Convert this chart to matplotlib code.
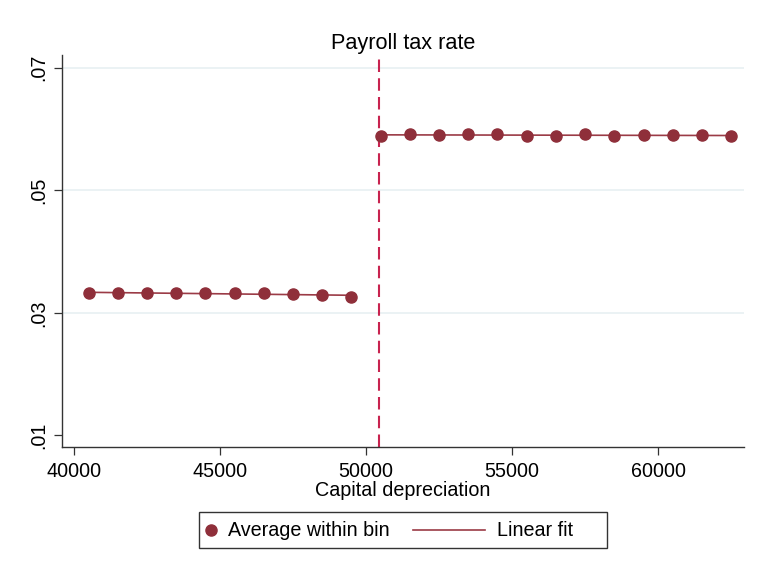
import numpy as np
import matplotlib
matplotlib.use("Agg")
import matplotlib.pyplot as plt
from matplotlib.lines import Line2D
from matplotlib.patches import Rectangle

plt.rcParams['font.family'] = ['Liberation Sans', 'DejaVu Sans']

# ---- data ----
title = "Payroll tax rate"
xlabel = "Capital depreciation"
cutoff = 50460
left_x = [40500, 41500, 42500, 43500, 44500, 45500, 46500, 47500, 48500, 49500]
left_y = [0.03317, 0.03322, 0.03327, 0.03322, 0.03317, 0.03322, 0.03317, 0.03306, 0.03289, 0.03257]
right_x = [50500, 51500, 52500, 53500, 54500, 55500, 56500, 57500, 58500, 59500, 60500, 61500, 62500]
right_y = [0.05893, 0.05910, 0.05898, 0.05910, 0.05915, 0.05893, 0.05877, 0.05910, 0.05887, 0.05903, 0.05903, 0.05898, 0.05882]
xticks = [40000, 45000, 50000, 55000, 60000]
yticks = [0.01, 0.03, 0.05, 0.07]
ytick_labels = [".01", ".03", ".05", ".07"]
grid_y = [0.03, 0.05, 0.07]
legend_labels = ["Average within bin", "Linear fit"]

# ---- style ----
W, H = 761, 571
DOT = '#8f2f3a'
FIT = '#9b3b46'
CUT = '#c8234f'
FS = 14.2
TFS = 15.6

fig = plt.figure(figsize=(W / 100, H / 100), dpi=100)
L, R, T, B = 62, 744, 55, 447
ax = fig.add_axes([L / W, 1 - B / H, (R - L) / W, (B - T) / H])

for gy in grid_y:
    ax.axhline(gy, color='#e9f1f3', lw=1.3, zorder=0)

ax.axvline(cutoff, color=CUT, lw=1.5, ls=(0, (6, 3)), zorder=1)

for xs, ys in ((left_x, left_y), (right_x, right_y)):
    xs = np.asarray(xs, float)
    ys = np.asarray(ys, float)
    b, a = np.polyfit(xs, ys, 1)
    xx = np.array([xs.min(), xs.max()])
    ax.plot(xx, a + b * xx, color=FIT, lw=1.2, zorder=2)
    ax.plot(xs, ys, 'o', color=DOT, ms=8, mec=DOT, zorder=3)

ax.set_xlim(39590, 62940)
ax.set_ylim(0.00809, 0.07207)
ax.set_xticks(xticks)
ax.set_xticklabels([str(v) for v in xticks])
ax.set_yticks(yticks)
ax.set_yticklabels(ytick_labels, rotation=90, va='center')

for s in ('top', 'right'):
    ax.spines[s].set_visible(False)
for s in ('left', 'bottom'):
    ax.spines[s].set_color('#333333')
    ax.spines[s].set_linewidth(1.0)
ax.tick_params(axis='both', length=5.5, width=0.9, color='#333333', labelsize=FS)
ax.tick_params(axis='x', pad=5)
ax.tick_params(axis='y', pad=4.5)

ax.set_title(title, fontsize=TFS, pad=4)
ax.set_xlabel(xlabel, fontsize=FS, labelpad=0)

# ---- legend (drawn in figure pixel coordinates) ----
def fx(px):
    return px / W

def fy(py):
    return 1 - py / H

fig.add_artist(Rectangle((fx(199.5), fy(548)), fx(606.5) - fx(199.5), fy(512) - fy(548),
                         transform=fig.transFigure, fill=False, ec='#333333', lw=1.0))
ly = 530
fig.add_artist(Line2D([fx(211)], [fy(ly)], marker='o', ms=8, color=DOT, mec=DOT,
                      ls='None', transform=fig.transFigure))
fig.text(fx(228), fy(ly), legend_labels[0], fontsize=FS, va='center', ha='left')
fig.add_artist(Line2D([fx(413), fx(485)], [fy(ly), fy(ly)], color=FIT, lw=1.2,
                      transform=fig.transFigure))
fig.text(fx(497), fy(ly), legend_labels[1], fontsize=FS, va='center', ha='left')

fig.savefig('out.png', dpi=100)
